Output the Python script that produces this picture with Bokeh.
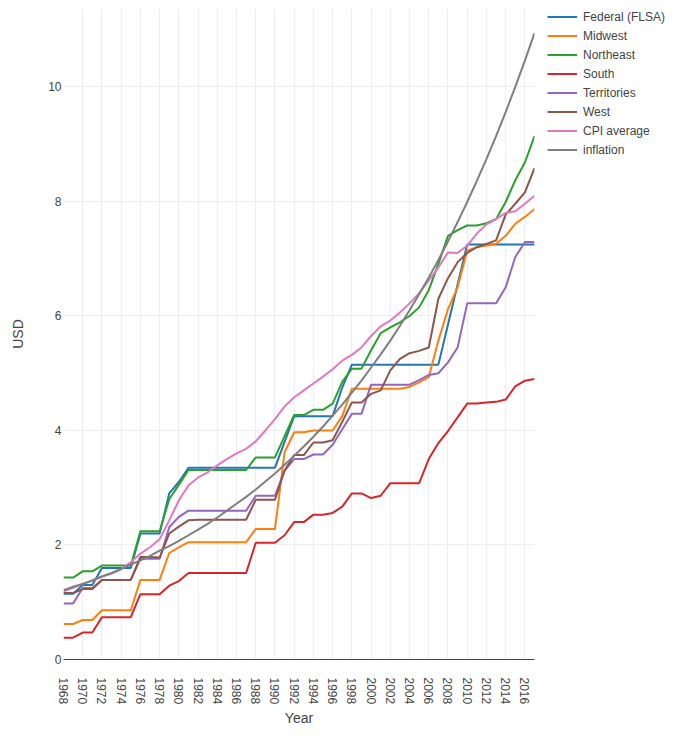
import math
from bokeh.plotting import figure
from bokeh.models import Legend, LegendItem, FixedTicker, Range1d
from bokeh.embed import file_html
from bokeh.resources import INLINE

years = list(range(1968, 2018))
x_ticks = list(range(1968, 2018, 2))
y_ticks = [0, 2, 4, 6, 8, 10]

federal = [1.15, 1.15, 1.30, 1.30, 1.60, 1.60, 1.60, 1.60, 2.20, 2.20, 2.20, 2.90, 3.10, 3.35,
           3.35, 3.35, 3.35, 3.35, 3.35, 3.35, 3.35, 3.35, 3.35,
           3.80, 4.25, 4.25, 4.25, 4.25, 4.25, 4.75,
           5.15, 5.15, 5.15, 5.15, 5.15, 5.15, 5.15, 5.15, 5.15, 5.15,
           5.85, 6.55, 7.25, 7.25, 7.25, 7.25, 7.25, 7.25, 7.25, 7.25]
midwest = [0.62, 0.62, 0.69, 0.69, 0.86, 0.86, 0.86, 0.86, 1.39, 1.39, 1.39, 1.86, 1.96, 2.05,
           2.05, 2.05, 2.05, 2.05, 2.05, 2.05, 2.28, 2.28, 2.28,
           3.62, 3.97, 3.97, 4.00, 4.00, 4.00, 4.25,
           4.73, 4.73, 4.73, 4.73, 4.73, 4.73, 4.76, 4.84, 4.93,
           5.57, 6.12, 6.50, 7.14, 7.20, 7.23, 7.26, 7.40, 7.61, 7.73, 7.87]
northeast = [1.43, 1.43, 1.54, 1.54, 1.64, 1.64, 1.64, 1.64, 2.24, 2.24, 2.24, 2.80, 3.05, 3.31,
             3.31, 3.31, 3.31, 3.31, 3.31, 3.31, 3.53, 3.53, 3.53,
             3.90, 4.27, 4.27, 4.36, 4.36, 4.47, 4.85,
             5.08, 5.08, 5.40, 5.70, 5.80, 5.89, 6.00, 6.15, 6.45,
             6.91, 7.40, 7.50, 7.58, 7.58, 7.62, 7.69, 7.99, 8.37, 8.68, 9.14]
south = [0.38, 0.38, 0.47, 0.47, 0.74, 0.74, 0.74, 0.74, 1.14, 1.14, 1.14, 1.29, 1.37, 1.51,
         1.51, 1.51, 1.51, 1.51, 1.51, 1.51, 2.04, 2.04, 2.04,
         2.17, 2.40, 2.40, 2.53, 2.53, 2.56, 2.67,
         2.90, 2.90, 2.82, 2.86, 3.08, 3.08, 3.08, 3.08, 3.50,
         3.78, 3.99, 4.23, 4.47, 4.47, 4.49, 4.50, 4.54, 4.77, 4.87, 4.90]
territories = [0.98, 0.98, 1.25, 1.25, 1.39, 1.39, 1.39, 1.39, 1.76, 1.76, 1.76, 2.31, 2.49, 2.60,
               2.60, 2.60, 2.60, 2.60, 2.60, 2.60, 2.86, 2.86, 2.86,
               3.30, 3.50, 3.50, 3.58, 3.58, 3.75, 4.02,
               4.29, 4.29, 4.80, 4.80, 4.80, 4.80, 4.80, 4.88, 4.97,
               5.00, 5.19, 5.45, 6.22, 6.22, 6.22, 6.22, 6.50, 7.03, 7.29, 7.29]
west = [1.16, 1.16, 1.23, 1.23, 1.39, 1.39, 1.39, 1.39, 1.79, 1.79, 1.78, 2.20, 2.32, 2.43,
        2.44, 2.44, 2.44, 2.44, 2.44, 2.44, 2.79, 2.79, 2.79,
        3.30, 3.57, 3.57, 3.79, 3.79, 3.83, 4.15,
        4.49, 4.49, 4.64, 4.70, 5.05, 5.25, 5.35, 5.39, 5.45,
        6.30, 6.66, 6.94, 7.10, 7.20, 7.26, 7.32, 7.77, 7.96, 8.16, 8.58]
cpi_average = [1.19, 1.25, 1.32, 1.38, 1.45, 1.50, 1.58, 1.70, 1.85, 1.96, 2.10, 2.43, 2.78, 3.04,
               3.18, 3.27, 3.39, 3.50, 3.60, 3.68, 3.81, 4.00, 4.20,
               4.42, 4.58, 4.70, 4.82, 4.94, 5.07, 5.22,
               5.32, 5.45, 5.65, 5.82, 5.92, 6.06, 6.22, 6.40, 6.62,
               6.85, 7.11, 7.10, 7.23, 7.44, 7.60, 7.69, 7.80, 7.83, 7.96, 8.10]
inflation = [1.21, 1.27, 1.32, 1.38, 1.45, 1.51, 1.58, 1.66, 1.73, 1.81, 1.90, 1.98, 2.07, 2.17,
             2.27, 2.37, 2.48, 2.60, 2.72, 2.84, 2.97, 3.11, 3.25,
             3.40, 3.56, 3.72, 3.89, 4.07, 4.26, 4.45,
             4.66, 4.87, 5.10, 5.33, 5.57, 5.83, 6.10, 6.38, 6.67,
             6.98, 7.30, 7.64, 7.99, 8.36, 8.74, 9.14, 9.56, 10.00, 10.46, 10.94]

series_names = ["Federal (FLSA)", "Midwest", "Northeast", "South", "Territories",
                "West", "CPI average", "inflation"]
series_values = [federal, midwest, northeast, south, territories, west, cpi_average, inflation]
colors = ["#1f77b4", "#ff7f0e", "#2ca02c", "#d62728", "#9467bd", "#8c564b", "#e377c2", "#7f7f7f"]

FONT = "Liberation Sans"
TXT = "#444444"

p = figure(frame_width=471, frame_height=651,
           x_range=Range1d(1968, 2017), y_range=Range1d(0, 11.37),
           output_backend="svg", toolbar_location=None,
           min_border_left=63, min_border_top=8, min_border_bottom=71, min_border_right=136)
p.outline_line_color = None
p.background_fill_color = "white"
p.border_fill_color = "white"

items = []
for name, vals, col in zip(series_names, series_values, colors):
    r = p.line(years, vals, line_color=col, line_width=2)
    items.append(LegendItem(label=name, renderers=[r]))

xa = p.xaxis[0]
xa.ticker = FixedTicker(ticks=x_ticks)
xa.axis_line_color = TXT
xa.axis_line_width = 1
xa.major_tick_line_color = None
xa.minor_tick_line_color = None
xa.major_tick_out = 0
xa.major_tick_in = 0
xa.minor_tick_out = 0
xa.major_label_orientation = -math.pi / 2
xa.major_label_standoff = 18
xa.major_label_text_font = FONT
xa.major_label_text_font_size = "12px"
xa.major_label_text_color = TXT
xa.axis_label = "Year"
xa.axis_label_standoff = 3
xa.axis_label_text_font = FONT
xa.axis_label_text_font_size = "14px"
xa.axis_label_text_font_style = "normal"
xa.axis_label_text_color = TXT

ya = p.yaxis[0]
ya.ticker = FixedTicker(ticks=y_ticks)
ya.axis_line_color = None
ya.major_tick_line_color = None
ya.minor_tick_line_color = None
ya.major_tick_out = 0
ya.major_tick_in = 0
ya.minor_tick_out = 0
ya.major_label_standoff = 2
ya.major_label_text_font = FONT
ya.major_label_text_font_size = "12px"
ya.major_label_text_color = TXT
ya.axis_label = "USD"
ya.axis_label_standoff = 19
ya.axis_label_text_font = FONT
ya.axis_label_text_font_size = "14px"
ya.axis_label_text_font_style = "normal"
ya.axis_label_text_color = TXT

p.xgrid.ticker = FixedTicker(ticks=x_ticks)
p.xgrid.grid_line_color = "#eeeeee"
p.ygrid.ticker = FixedTicker(ticks=y_ticks)
p.ygrid.grid_line_color = "#eeeeee"

legend = Legend(items=items, location=(13, 500), margin=0, padding=0, spacing=0,
                glyph_width=30, glyph_height=19, label_height=19, label_standoff=6,
                label_text_font=FONT, label_text_font_size="12px", label_text_color=TXT,
                background_fill_alpha=0, border_line_alpha=0)
p.add_layout(legend, "right")

open("out.html", "w").write(file_html(p, INLINE))
